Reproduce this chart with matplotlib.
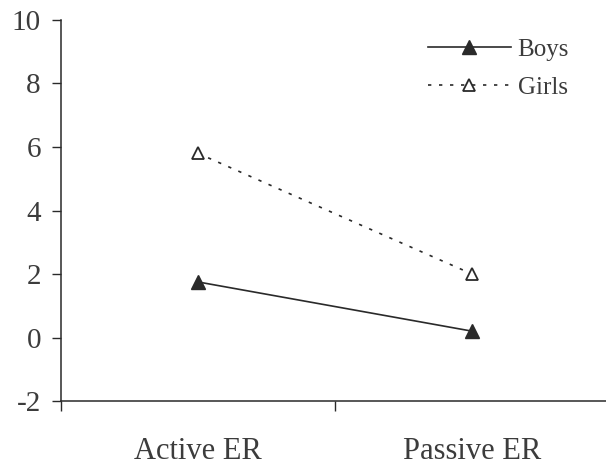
import matplotlib.pyplot as plt

# Data
categories = ["Active ER", "Passive ER"]
boys = [1.75, 0.2]
girls = [5.8, 2.0]
y_ticks = [-2, 0, 2, 4, 6, 8, 10]

plt.rcParams['font.family'] = ['Liberation Serif', 'DejaVu Serif']

fig = plt.figure(figsize=(6.06, 4.65), dpi=100)
ax = fig.add_axes([0.1007, 0.1376, 0.9043, 0.8194])

x_pos = [i + 0.5 for i in range(len(categories))]
line_col = "#2a2a2a"
text_col = "#3c3c3c"

ax.plot(x_pos, boys, color=line_col, linewidth=1.2, marker="^",
        markersize=10, markerfacecolor=line_col, markeredgecolor=line_col,
        label="Boys")
ax.plot(x_pos, girls, color=line_col, linewidth=1.2, linestyle=(0, (2, 4.6)),
        marker="^", markersize=9, markerfacecolor="white",
        markeredgecolor=line_col, markeredgewidth=1.3, label="Girls")

ax.set_xlim(0, 2)
ax.set_ylim(-2, 10)
ax.set_yticks(y_ticks)
ax.set_yticklabels([str(v) for v in y_ticks])

# category labels sit between the ticks
ax.set_xticks([0, 1, 2])
ax.set_xticklabels([])
ax.set_xticks(x_pos, minor=True)
ax.set_xticklabels(categories, minor=True)
ax.tick_params(axis="x", which="minor", length=0, pad=26, labelsize=22,
               labelcolor=text_col)
ax.tick_params(axis="x", which="major", length=7, width=1, direction="out",
               color=line_col)
ax.tick_params(axis="y", length=6.5, width=1, direction="out", pad=8,
               labelsize=21, labelcolor=text_col, color=line_col)

for side in ["top", "right"]:
    ax.spines[side].set_visible(False)
for side in ["left", "bottom"]:
    ax.spines[side].set_color(line_col)
    ax.spines[side].set_linewidth(1.1)

ax.legend(loc="upper left", bbox_to_anchor=(0.67, 0.952), frameon=False,
          fontsize=18, handlelength=3.3, handletextpad=0.28,
          labelspacing=0.63, borderpad=0, borderaxespad=0,
          labelcolor=text_col)

fig.savefig("out.png", dpi=100)
